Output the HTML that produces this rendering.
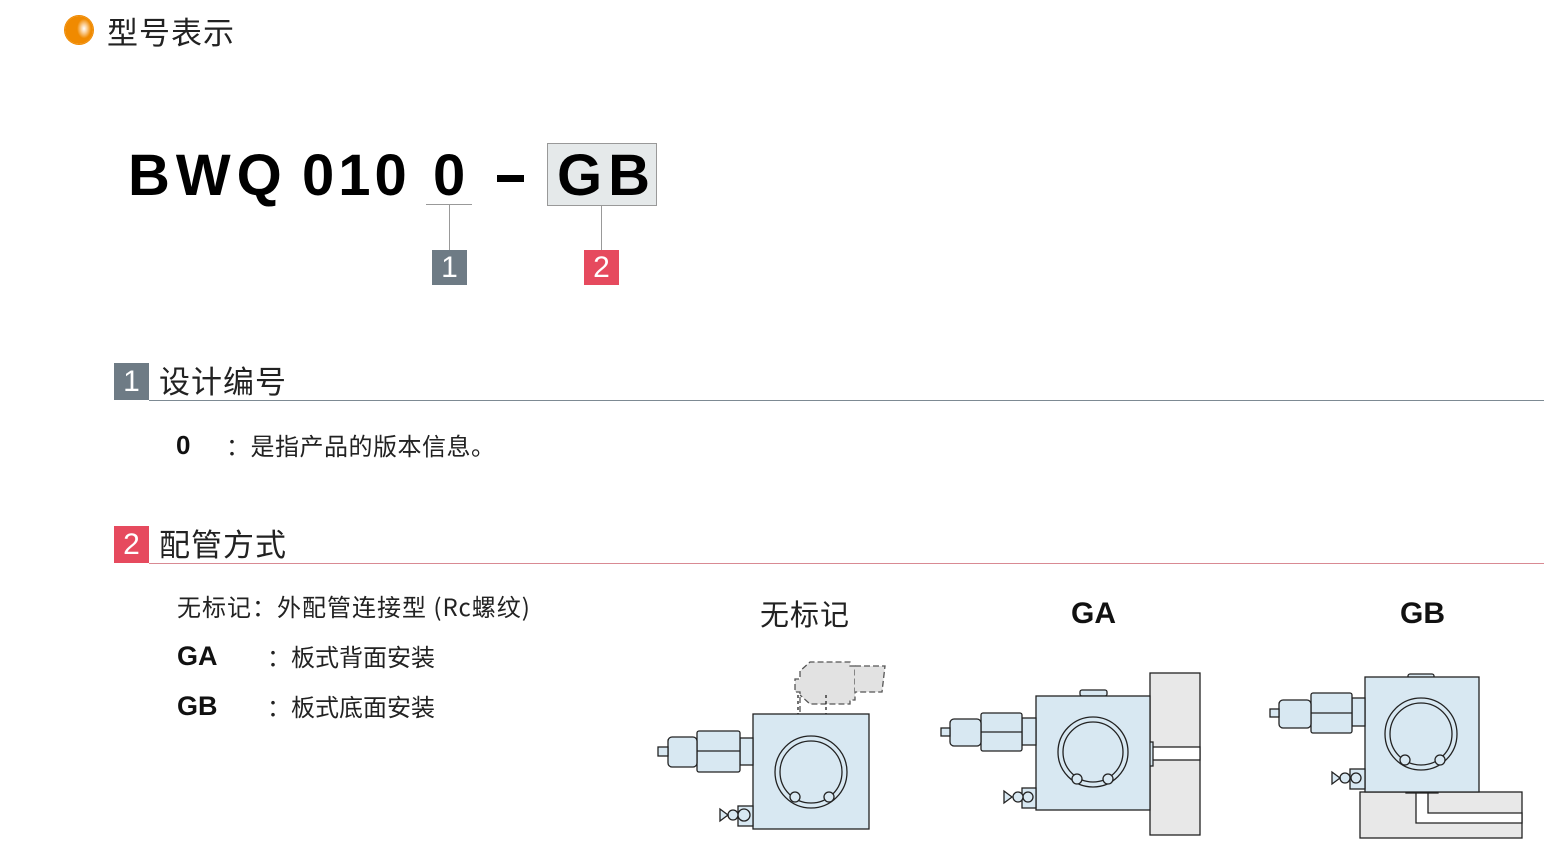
<!DOCTYPE html>
<html><head><meta charset="utf-8"><style>
body{margin:0;width:1544px;height:856px;background:#fff;position:relative;overflow:hidden;font-family:"Liberation Sans","Noto Sans CJK SC",sans-serif;color:#111}
.a{position:absolute;white-space:nowrap}
.big{font-weight:bold;font-size:58px;line-height:58px;letter-spacing:6px;color:#000}
.cj{font-family:"Noto Sans CJK SC",sans-serif}
</style></head><body>
<div class="a" style="left:65px;top:16px;width:28px;height:28px;border-radius:50%;background:radial-gradient(ellipse 25% 35% at 68% 45%,#fff 0,#fbd3a0 40%,#f08a00 100%);box-shadow:0 0 0 1px #f08a00"></div>
<div class="a cj" style="left:107px;top:11px;font-size:31px;line-height:40px;color:#222;letter-spacing:1px">型号表示</div>

<div class="a big" style="left:128px;top:147px">BWQ</div>
<div class="a big" style="left:302px;top:147px;letter-spacing:4px">010</div>
<div class="a big" style="left:433px;top:147px">0</div>
<div class="a" style="left:497px;top:175px;width:27px;height:7px;background:#000"></div>
<div class="a" style="left:547px;top:143px;width:108px;height:61px;background:#e5e9ea;border:1px solid #999"></div>
<div class="a big" style="left:557px;top:147px">GB</div>
<div class="a" style="left:426px;top:204px;width:46px;height:1px;background:#999"></div>
<div class="a" style="left:449px;top:205px;width:1px;height:45px;background:#999"></div>
<div class="a" style="left:601px;top:205px;width:1px;height:45px;background:#999"></div>
<div class="a" style="left:432px;top:250px;width:35px;height:35px;background:#6e7b85;color:#fff;font-size:30px;line-height:35px;text-align:center">1</div>
<div class="a" style="left:584px;top:250px;width:35px;height:35px;background:#e64a5e;color:#fff;font-size:30px;line-height:35px;text-align:center">2</div>

<div class="a" style="left:114px;top:363px;width:35px;height:37px;background:#6e7b85;color:#fff;font-size:30px;line-height:37px;text-align:center">1</div>
<div class="a cj" style="left:159px;top:360px;font-size:31px;line-height:40px;color:#222;letter-spacing:1px">设计编号</div>
<div class="a" style="left:149px;top:400px;width:1395px;height:1px;background:#7d8a93"></div>
<div class="a" style="left:176px;top:429px;font-size:26px;font-weight:bold;line-height:32px">0</div>
<div class="a cj" style="left:226px;top:429px;font-size:24px;line-height:32px;color:#222;letter-spacing:0.5px">：是指产品的版本信息。</div>

<div class="a" style="left:114px;top:526px;width:35px;height:37px;background:#e64a5e;color:#fff;font-size:30px;line-height:37px;text-align:center">2</div>
<div class="a cj" style="left:159px;top:523px;font-size:31px;line-height:40px;color:#222;letter-spacing:1px">配管方式</div>
<div class="a" style="left:149px;top:563px;width:1395px;height:1px;background:#d98a93"></div>

<div class="a cj" style="left:177px;top:590px;font-size:24px;line-height:32px;color:#222;letter-spacing:1px">无标记：外配管连接型 (Rc螺纹)</div>
<div class="a" style="left:177px;top:640px;font-size:27px;font-weight:bold;line-height:32px">GA</div>
<div class="a cj" style="left:267px;top:640px;font-size:24px;line-height:32px;color:#222">：板式背面安装</div>
<div class="a" style="left:177px;top:690px;font-size:27px;font-weight:bold;line-height:32px">GB</div>
<div class="a cj" style="left:267px;top:690px;font-size:24px;line-height:32px;color:#222">：板式底面安装</div>

<div class="a cj" style="left:760px;top:594px;font-size:29px;line-height:38px;color:#222;letter-spacing:1px">无标记</div>
<div class="a" style="left:1071px;top:596px;font-size:30px;font-weight:bold;line-height:36px">GA</div>
<div class="a" style="left:1400px;top:596px;font-size:30px;font-weight:bold;line-height:36px">GB</div>

<svg class="a" style="left:0;top:0" width="1544" height="856" stroke="#222" stroke-width="1.3" fill="#d8e8f2">
<g>
<path d="M800 712 V692 h-5 v-13 h5 v-8 l10-9 h40 v4 h5 v34 h-5 v4 h-40 l-10 -9 v0" fill="#e2e2e2" stroke="#555" stroke-dasharray="6 3"/>
<path d="M855 666 h30 l-3 26 h-27" fill="#e2e2e2" stroke="#555" stroke-dasharray="6 3"/>
<line x1="798" y1="695" x2="798" y2="728" stroke-dasharray="3 3"/><line x1="826" y1="695" x2="826" y2="728" stroke-dasharray="3 3"/>
<rect x="753" y="714" width="116" height="115"/>
<circle cx="811" cy="772" r="36"/><circle cx="811" cy="772" r="31"/>
<circle cx="795" cy="797" r="5"/><circle cx="829" cy="797" r="5"/>
<rect x="740" y="738" width="13" height="27"/>
<rect x="697" y="731" width="43" height="41" rx="2"/><line x1="697" y1="751" x2="740" y2="751"/>
<rect x="668" y="737" width="29" height="30" rx="4"/>
<rect x="658" y="747" width="10" height="9"/>
<rect x="738" y="806" width="15" height="20"/><circle cx="744" cy="815" r="6"/><circle cx="733" cy="815" r="5"/><path d="M728 815 l-8-6 v12 z"/>
</g>
<g>
<rect x="1150" y="673" width="50" height="162" fill="#e8e8e8"/>
<rect x="1150" y="747" width="50" height="13" fill="#fff"/>
<rect x="1145" y="742" width="8" height="24"/>
<rect x="1080" y="690" width="27" height="6" rx="2"/>
<rect x="1036" y="696" width="114" height="114"/>
<circle cx="1093" cy="752" r="35"/><circle cx="1093" cy="752" r="30"/>
<circle cx="1077" cy="779" r="5"/><circle cx="1108" cy="779" r="5"/>
<rect x="1022" y="718" width="14" height="27"/>
<rect x="981" y="713" width="41" height="38" rx="2"/><line x1="981" y1="732" x2="1022" y2="732"/>
<rect x="950" y="719" width="31" height="27" rx="4"/>
<rect x="941" y="728" width="9" height="8"/>
<rect x="1022" y="788" width="14" height="20"/><circle cx="1028" cy="797" r="5"/><circle cx="1018" cy="797" r="5"/><path d="M1012 797 l-8-6 v12 z"/>
</g>
<g>
<rect x="1360" y="792" width="162" height="46" fill="#e8e8e8"/>
<path d="M1416 792 V823 H1522 V813 H1428 V792 z" fill="#fff"/>
<rect x="1406" y="787" width="32" height="6"/>
<rect x="1413" y="778" width="18" height="10" fill="#fff"/>
<rect x="1408" y="674" width="26" height="5" rx="2"/>
<rect x="1365" y="677" width="114" height="115"/>
<circle cx="1421" cy="734" r="36"/><circle cx="1421" cy="734" r="31"/>
<circle cx="1405" cy="760" r="5"/><circle cx="1440" cy="760" r="5"/>
<rect x="1352" y="698" width="13" height="28"/>
<rect x="1311" y="693" width="41" height="40" rx="2"/><line x1="1311" y1="713" x2="1352" y2="713"/>
<rect x="1279" y="700" width="32" height="28" rx="4"/>
<rect x="1270" y="709" width="9" height="8"/>
<rect x="1350" y="769" width="15" height="20"/><circle cx="1356" cy="778" r="5"/><circle cx="1345" cy="778" r="5"/><path d="M1340 778 l-8-6 v12 z"/>
</g>
</svg>
</body></html>
